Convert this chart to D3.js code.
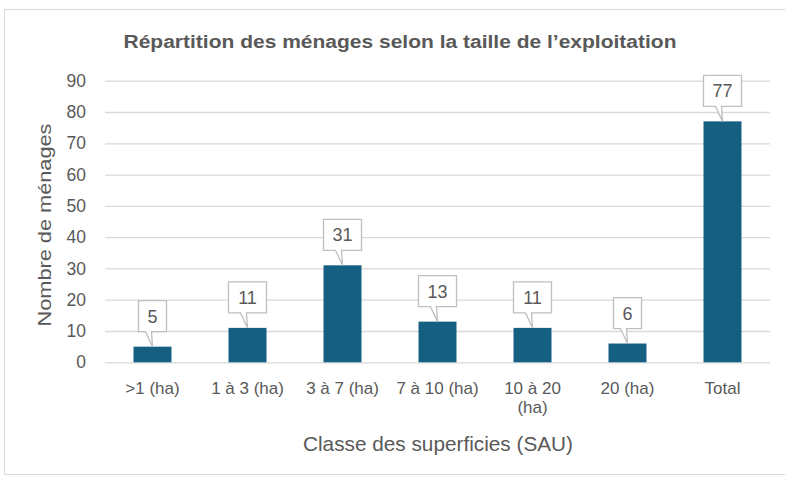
<!DOCTYPE html>
<html><head><meta charset="utf-8">
<script src="https://cdn.jsdelivr.net/npm/d3@7"></script>
<style>
html,body{margin:0;padding:0;background:#fff;}
svg{display:block;font-family:"Liberation Sans",Arial,sans-serif;}
</style></head>
<body><svg id="c" width="785" height="477"></svg>
<script>
const categories = [">1 (ha)", "1 à 3 (ha)", "3 à 7 (ha)", "7 à 10 (ha)", "10 à 20 (ha)", "20 (ha)", "Total"];
const values = [5, 11, 31, 13, 11, 6, 77];
const yTicks = [0, 10, 20, 30, 40, 50, 60, 70, 80, 90];
const title = "Répartition des ménages selon la taille de l’exploitation";
const yTitle = "Nombre de ménages";
const xTitle = "Classe des superficies (SAU)";

const svg = d3.select("#c");
const W = 785, H = 477;
const m = {left:105, right:15, top:80.7, bottom:114.7};
const x = d3.scaleBand().domain(categories).range([m.left, W - m.right]).paddingInner(0.6).paddingOuter(0.3);
const y = d3.scaleLinear().domain([0, 90]).range([H - m.bottom, m.top]);

// frame
svg.append("rect").attr("x",4.5).attr("y",9.5).attr("width",900).attr("height",465)
  .attr("fill","#fff").attr("stroke","#d9d9d9").attr("stroke-width",1);

// title
svg.append("text").attr("x",400).attr("y",48).attr("text-anchor","middle")
  .attr("font-size",18).attr("font-weight","bold").attr("fill","#595959")
  .attr("textLength",553).attr("lengthAdjust","spacingAndGlyphs").text(title);

// grid
const yAxis = d3.axisLeft(y).tickValues(yTicks).tickSize(-(W - m.left - m.right)).tickPadding(19);
const gy = svg.append("g").attr("transform",`translate(${m.left},0)`).call(yAxis);
gy.select(".domain").remove();
gy.selectAll(".tick line").attr("stroke","#d9d9d9").attr("stroke-width",1.3);
gy.selectAll(".tick text").attr("font-size",17.5).attr("fill","#595959").attr("font-family","Liberation Sans, Arial, sans-serif");

// x axis labels
const gx = svg.append("g").attr("transform",`translate(0,${y(0)})`)
  .call(d3.axisBottom(x).tickSize(0).tickPadding(0));
gx.select(".domain").remove();
gx.selectAll(".tick text").each(function(d){
  const t = d3.select(this);
  t.text(null).attr("dy",null).attr("y",null).attr("font-size",17).attr("fill","#595959").attr("font-family","Liberation Sans, Arial, sans-serif");
  const lines = d === "10 à 20 (ha)" ? ["10 à 20","(ha)"] : [d];
  lines.forEach((l,i)=>t.append("tspan").attr("x",0).attr("y",32 + i*19).text(l));
});

// bars
svg.append("g").selectAll("rect").data(values).join("rect")
  .attr("x",(d,i)=>x(categories[i])).attr("width",x.bandwidth())
  .attr("y",d=>y(d)).attr("height",d=>y(0)-y(d)).attr("fill","#156082");

// callouts
const gap = 15, bh = 31;
const lab = svg.append("g");
values.forEach((v,i)=>{
  const cx = x(categories[i]) + x.bandwidth()/2;
  const top = y(v);
  const bw = String(v).length > 1 ? 38 : 28;
  const bb = top - gap, bt = bb - bh, l = cx - bw/2, r = cx + bw/2;
  const p = `M${l},${bt}H${r}V${bb}H${cx-1}L${cx},${top}L${cx-7},${bb}H${l}Z`;
  lab.append("path").attr("d",p).attr("fill","#fff").attr("stroke","#bfbfbf").attr("stroke-width",1.3);
  lab.append("text").attr("x",cx).attr("y",bt+bh/2+6.5).attr("text-anchor","middle")
    .attr("font-size",18).attr("fill","#595959").text(v);
});

// axis titles
svg.append("text").attr("transform","translate(51,225) rotate(-90)").attr("text-anchor","middle")
  .attr("font-size",18.5).attr("fill","#595959")
  .attr("textLength",203).attr("lengthAdjust","spacingAndGlyphs").text(yTitle);
svg.append("text").attr("x",438).attr("y",451).attr("text-anchor","middle")
  .attr("font-size",21).attr("fill","#595959")
  .attr("textLength",270).attr("lengthAdjust","spacingAndGlyphs").text(xTitle);
</script></body></html>
